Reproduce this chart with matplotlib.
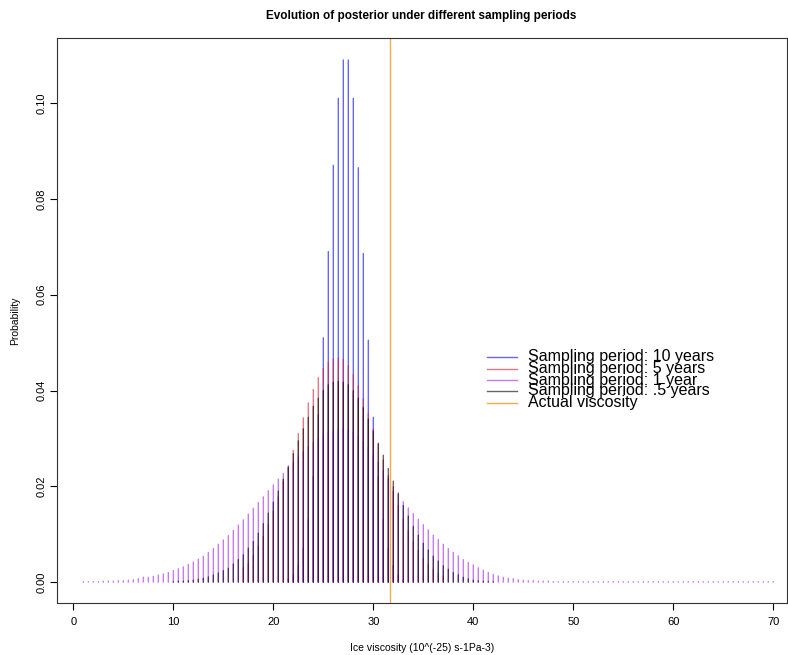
import numpy as np
import matplotlib
matplotlib.use("Agg")
import matplotlib.pyplot as plt
from matplotlib.lines import Line2D

plt.rcParams['font.family'] = ['Liberation Sans', 'DejaVu Sans']

# posterior probabilities on a 0.5 grid; each series starts at its own x
blue_start = 21.5   # sampling period 10 years
blue = [0.0006, 0.0015, 0.0035, 0.007, 0.013, 0.022, 0.035, 0.051, 0.069, 0.087,
        0.101, 0.109, 0.109, 0.101, 0.0865, 0.0686, 0.0505, 0.0344, 0.022, 0.013,
        0.007, 0.0035, 0.0015, 0.0006]

red_start = 17.0    # sampling period 5 years
red = [0.003, 0.004, 0.0055, 0.0075, 0.0095, 0.012, 0.0148, 0.0178, 0.021, 0.0243,
       0.0275, 0.031, 0.0343, 0.0374, 0.0402, 0.0427, 0.0446, 0.0459, 0.0466, 0.0468,
       0.0465, 0.0452, 0.0434, 0.041, 0.0383, 0.0352, 0.032, 0.0288, 0.0255, 0.0222,
       0.019, 0.016, 0.0132, 0.0107, 0.0085, 0.0066, 0.005, 0.0037, 0.0027, 0.0019,
       0.0013]

purple_start = 1.0  # sampling period 1 year
purple = [0.0001, 0.0001, 0.0001, 0.0001, 0.0002, 0.0002, 0.0002, 0.0003, 0.0003, 0.0004,
          0.0005, 0.0007, 0.001, 0.001, 0.0012, 0.0015, 0.0017, 0.002, 0.0024, 0.0028,
          0.0032, 0.0037, 0.0042, 0.0048, 0.0054, 0.0062, 0.007, 0.0079, 0.0088, 0.0097,
          0.0108, 0.0119, 0.013, 0.0142, 0.0154, 0.0166, 0.0178, 0.0191, 0.0203, 0.0215,
          0.0227, 0.0239, 0.025, 0.0261, 0.0272, 0.0282, 0.0291, 0.0299, 0.0306, 0.0312,
          0.0316, 0.0319, 0.032, 0.0318, 0.0313, 0.0305, 0.0294, 0.0281, 0.0266, 0.025,
          0.0233, 0.0216, 0.0199, 0.0183, 0.0168, 0.0155, 0.0143, 0.0131, 0.012, 0.0109,
          0.0098, 0.0089, 0.0079, 0.007, 0.0062, 0.0055, 0.0047, 0.0041, 0.0036, 0.003,
          0.0025, 0.002, 0.0016, 0.0013, 0.001, 0.0008, 0.0007, 0.0005, 0.0004, 0.0003,
          0.0003, 0.0002, 0.0002, 0.0002, 0.0001, 0.0001, 0.0001, 0.0001, 0.0001, 0.0001,
          0.0001, 0.0001, 0.0001, 0.0001, 0.0001, 0.0001, 0.0001, 0.0001, 0.0001, 0.0001,
          0.0001, 0.0001, 0.0001, 0.0001, 0.0001, 0.0001, 0.0001, 0.0001, 0.0001, 0.0001,
          0.0001, 0.0001, 0.0001, 0.0001, 0.0001, 0.0001, 0.0001, 0.0001, 0.0001, 0.0001,
          0.0001, 0.0001, 0.0001, 0.0001, 0.0001, 0.0001, 0.0001, 0.0001, 0.0001]

black_start = 10.0  # sampling period .5 years
black = [0.0001, 0.0002, 0.0002, 0.0003, 0.0004, 0.0006, 0.0008, 0.0011, 0.0015, 0.0019,
         0.0024, 0.0029, 0.0038, 0.0047, 0.0057, 0.0071, 0.0085, 0.0102, 0.0122, 0.0144,
         0.0167, 0.019, 0.0215, 0.024, 0.0268, 0.0295, 0.032, 0.0344, 0.0367, 0.0384,
         0.040, 0.0412, 0.0417, 0.0419, 0.0417, 0.0412, 0.0399, 0.0384, 0.0364, 0.034,
         0.0315, 0.029, 0.0265, 0.0237, 0.0211, 0.0186, 0.016, 0.0138, 0.0116, 0.0098,
         0.0081, 0.0067, 0.0054, 0.0044, 0.0034, 0.0027, 0.002, 0.0015, 0.001, 0.0007,
         0.0004, 0.0003, 0.0002, 0.0001, 0.0001]

actual_viscosity = 31.7

labels = ["Sampling period: 10 years", "Sampling period: 5 years",
          "Sampling period: 1 year", "Sampling period: .5 years", "Actual viscosity"]
cols = [(0, 0, 1, 0.6), (0.85, 0.1, 0.2, 0.6), (0.63, 0.13, 0.94, 0.6),
        (0, 0, 0, 0.6), (0.93, 0.62, 0.15, 0.85)]

fig = plt.figure(figsize=(7.88, 6.55), dpi=100)
ax = fig.add_axes([0.072, 0.0798, 0.9267, 0.8616])

series = [(blue_start, blue), (red_start, red), (purple_start, purple), (black_start, black)]
for (start, vals), c in zip(series, cols):
    xs = start + 0.5 * np.arange(len(vals))
    lc = ax.vlines(xs, 0, vals, colors=[c], linewidth=1.0, capstyle='round')
    lc.set_snap(False)

ax.axvline(actual_viscosity, color=cols[4], linewidth=1.0)

ax.set_xlim(-1.66, 71.37)
ax.set_ylim(-0.0043, 0.1135)
ax.set_xticks([0, 10, 20, 30, 40, 50, 60, 70])
ax.set_yticks([0.0, 0.02, 0.04, 0.06, 0.08, 0.10])
ax.set_yticklabels(["0.00", "0.02", "0.04", "0.06", "0.08", "0.10"], rotation=90, va='center')
ax.tick_params(labelsize=8, length=5, width=0.8, direction='out')
ax.tick_params(axis='y', pad=2)
ax.tick_params(axis='x', pad=5)
for s in ax.spines.values():
    s.set_linewidth(0.8)
    s.set_color('#333333')

ax.set_xlabel("Ice viscosity (10^(-25) s-1Pa-3)", fontsize=7.5, labelpad=12)
ax.set_ylabel("Probability", fontsize=7.5, labelpad=12)
fig.text(0.535, 0.975, "Evolution of posterior under different sampling periods",
         ha='center', va='center', fontsize=8.5, fontweight='bold')

# legend drawn by hand: rows sit closer than the text height, as in the original
row_y = [357, 369, 380, 391, 403]
for lab, c, yy in zip(labels, cols, row_y):
    yf = 1 - yy / 655
    fig.add_artist(Line2D([487 / 788, 517 / 788], [yf, yf], color=c, linewidth=1.0))
    fig.text(528 / 788, yf, lab, ha='left', va='center', fontsize=11.5)

fig.savefig("out.png", dpi=100)
